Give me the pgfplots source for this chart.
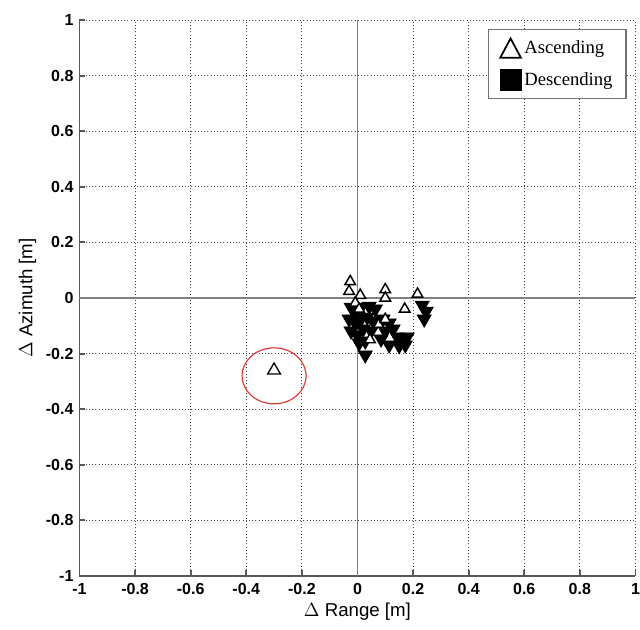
\documentclass[border=0pt]{standalone}
\usepackage{pgfplots}
\pgfplotsset{compat=1.18}
\usepackage{fontspec}
\setmainfont{Liberation Sans}
\newfontfamily\timesfont{Liberation Serif}
\definecolor{circred}{RGB}{225,60,55}

\begin{document}
\begin{tikzpicture}
% page frame: 640x630 px at 0.75pt/px, axis box 417pt square
\useasboundingbox (-59.6pt,-40.5pt) rectangle (420.4pt,432pt);
\begin{axis}[
  width=417pt, height=417pt, scale only axis,
  xmin=-1, xmax=1, ymin=-1, ymax=1,
  xtick={-1,-0.8,...,1}, ytick={-1,-0.8,...,1},
  /pgf/number format/assume math mode=true,
  ticklabel style={font=\fontsize{12}{13}\selectfont\bfseries},
  yticklabel style={xshift=-1pt},
  xticklabel style={yshift=-2pt},
  axis lines=left,
  axis line style={-, black!65, line width=1.4pt},
  tick align=inside, major tick length=4.5pt,
  tick style={black!65, line width=1.4pt},
  grid=major, major grid style={dotted, black!75, line width=0.7pt},
  xlabel={$\Delta$ Range [m]}, ylabel={$\Delta$ Azimuth [m]},
  label style={font=\fontsize{14}{16}\selectfont},
  xlabel style={at={(0.5,-0.0647)}, anchor=center},
  ylabel style={at={(-0.0935,0.5)}, anchor=center},
  legend style={at={(0.984,0.984)}, anchor=north east, draw=black!55,
    line width=1pt,
    font=\timesfont\fontsize{14}{16}\selectfont, row sep=8pt,
    inner xsep=8pt, inner ysep=6pt},
  legend cell align=left,
  clip=false,
]
\draw[black!50, line width=1.3pt] (axis cs:0,-1) -- (axis cs:0,1);
\draw[black!50, line width=1.3pt] (axis cs:-1,0) -- (axis cs:1,0);

% Descending passes (drawn first, ascending ones lie on top)
\addplot[only marks, mark=triangle*, mark size=6.2pt, forget plot,
  mark options={rotate=180, fill=black, draw=black}]
coordinates {
(-0.023,-0.033)(-0.008,-0.055)(0.013,-0.033)(0.042,-0.030)(0.064,-0.040)
(-0.030,-0.076)(-0.008,-0.090)(0.013,-0.076)(0.035,-0.069)(0.056,-0.083)
(-0.023,-0.119)(-0.001,-0.133)(0.020,-0.112)(0.049,-0.119)(0.006,-0.162)
(0.028,-0.155)(0.028,-0.205)
(0.092,-0.076)(0.114,-0.090)(0.100,-0.119)(0.128,-0.112)(0.085,-0.148)
(0.143,-0.140)(0.164,-0.148)(0.179,-0.140)(0.150,-0.172)(0.172,-0.169)
(0.114,-0.169)
(0.233,-0.026)(0.247,-0.048)(0.240,-0.076)
};

% Ascending passes
\addplot[only marks, mark=triangle*, mark size=4.6pt,
  mark options={fill=white, draw=black, line width=1.1pt},
  legend image code/.code={\draw[black, line width=1.3pt]
    (0pt,-7pt) -- (15.5pt,-7pt) -- (7.75pt,7.5pt) -- cycle;}]
coordinates {
(-0.026,0.059)(-0.030,0.024)(0.010,0.010)(0.100,0.030)(0.100,0.000)
(0.216,0.014)(0.170,-0.040)(-0.008,-0.018)(0.006,-0.040)(0.045,-0.150)
(0.100,-0.077)
};
\addlegendentry{Ascending}

\addplot[only marks, mark=triangle*, mark size=5.5pt, forget plot,
  mark options={fill=white, draw=black, line width=1pt}]
coordinates {(-0.30,-0.26)};

\addlegendimage{legend image code/.code={\fill[black] (0pt,-7.5pt) rectangle (15.5pt,7.5pt);}}
\addlegendentry{Descending}

\draw[circred, line width=0.9pt] (axis cs:-0.3,-0.28) ellipse [x radius=24pt, y radius=21pt];
\end{axis}
\end{tikzpicture}
\end{document}
